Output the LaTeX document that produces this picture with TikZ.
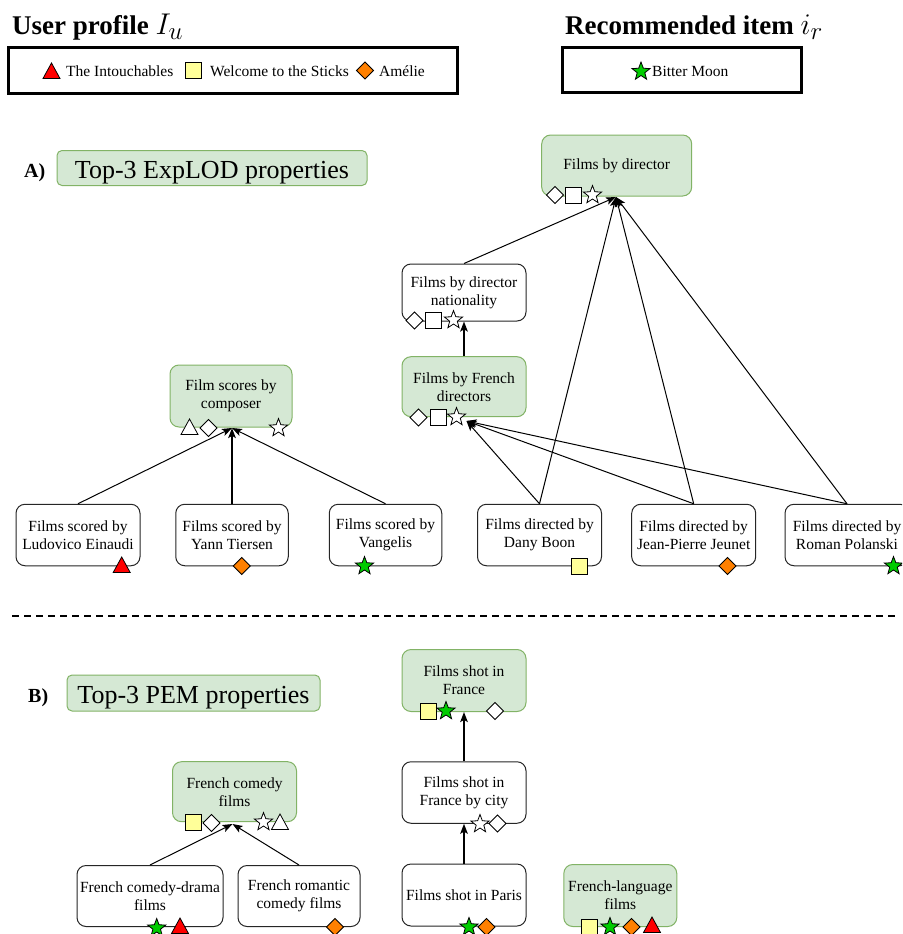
\RequirePackage{fix-cm}
\documentclass[tikz,border=0pt]{standalone}
\usepackage{fontspec}
\setmainfont{Liberation Serif}
\DeclareMathSizes{30}{30}{25}{20}
\usetikzlibrary{arrows.meta}
\definecolor{gfill}{HTML}{D5E8D4}
\definecolor{gline}{HTML}{82B366}
\definecolor{mred}{HTML}{FF0000}
\definecolor{myel}{HTML}{FFFF99}
\definecolor{mora}{HTML}{FF8000}
\definecolor{mgrn}{HTML}{00CC00}
\newcommand{\bigmath}[1]{{\fontsize{30}{30}\selectfont$#1$}}
\begin{document}
\begin{tikzpicture}[x=1pt,y=-1pt,
  nfont/.style={font=\fontsize{15.5}{18}\selectfont},
  sz/.style 2 args={minimum width=#1pt, minimum height=#2pt},
  wbox/.style={draw=black!85, line width=1pt, rounded corners=9pt, fill=white, align=center, inner sep=0pt, nfont},
  gbox/.style={wbox, draw=gline, fill=gfill},
  tbox/.style={draw=gline, fill=gfill, line width=1pt, rounded corners=5pt, inner sep=0pt,
               font=\fontsize{26}{30}\selectfont, text height=23pt, text depth=2pt},
  legbox/.style={draw=black, line width=3pt},
  conn/.style={line width=1pt, -{Stealth[length=10pt,width=7.5pt,inset=2.2pt]}},
  thickconn/.style={conn, line width=2.2pt},
  title/.style={anchor=base west, inner sep=0pt, font=\fontsize{27}{30}\selectfont\bfseries},
  legtext/.style={anchor=base west, inner sep=0pt, nfont},
  mtri/.pic={\draw[fill=#1, line width=0.8pt, line join=miter] (0,-8) -- (8.5,7.5) -- (-8.5,7.5) -- cycle;},
  msq/.pic={\draw[fill=#1, line width=0.8pt] (-8,-8) rectangle (8,8);},
  mdia/.pic={\draw[fill=#1, line width=0.8pt] (0,-8.5) -- (8.5,0) -- (0,8.5) -- (-8.5,0) -- cycle;},
  mstar/.pic={\draw[fill=#1, line width=0.8pt, line join=miter] (-90:9.5) -- (-54:4) -- (-18:9.5) -- (18:4) -- (54:9.5) -- (90:4) -- (126:9.5) -- (162:4) -- (198:9.5) -- (234:4) -- cycle;}
]
\useasboundingbox (0,0) rectangle (902,934);
\clip (0,0) rectangle (902,934);

% ---------- header ----------
\node[title] (tuser) at (12,35) {User profile \bigmath{I_u}};
\node[title] (titem) at (565,35) {Recommended item \bigmath{i_r}};
\node[legbox, sz={449}{46}] (leg1) at (232.5,70.5) {};
\node[legbox, sz={239}{45}] (leg2) at (681.5,70) {};
\pic at (51.5,71) {mtri=mred};
\node[legtext] (l1) at (66,77) {The Intouchables};
\pic at (193.5,70) {msq=myel};
\node[legtext] (l2) at (210,77) {Welcome to the Sticks};
\pic at (365,70.5) {mdia=mora};
\node[legtext] (l3) at (379,77) {Amélie};
\pic at (641,71.5) {mstar=mgrn};
\node[legtext] (l4) at (652,76.5) {Bitter Moon};

% ---------- section A ----------
\node[anchor=base west, inner sep=0pt, font=\fontsize{20}{24}\selectfont\bfseries] (la) at (24,177) {A)};
\node[tbox, sz={310}{35}] (expl) at (212,168) {Top-3 ExpLOD properties};

\node[gbox, sz={150}{61}] (dir) at (616.7,165.5) {Films by director};
\node[wbox, sz={124}{57}] (nat) at (464,292.5) {Films by director\\nationality};
\node[gbox, sz={124}{60}] (fre) at (464,386.7) {Films by French\\directors};
\node[gbox, sz={122}{62}] (comp) at (231,396) {Film scores by\\composer};

\node[wbox, sz={124}{61.5}] (ein) at (78,535) {Films scored by\\Ludovico Einaudi};
\node[wbox, sz={112.5}{61.5}] (yan) at (232,535) {Films scored by\\Yann Tiersen};
\node[wbox, sz={112.5}{61.5}] (van) at (385.5,535) {Films scored by\\Vangelis};
\node[wbox, sz={124}{61.5}] (boon) at (539.5,535) {Films directed by\\Dany Boon};
\node[wbox, sz={124}{61.5}] (jeu) at (693.7,535) {Films directed by\\Jean-Pierre Jeunet};
\node[wbox, sz={124}{61.5}] (pol) at (847,535) {Films directed by\\Roman Polanski};

\coordinate (pdir) at (616,197);
\coordinate (pfre) at (466.5,421);
\coordinate (pcomp) at (232,428);

\draw[conn] (nat.north) -- (pdir);
\draw[conn] (boon.north) -- (pdir);
\draw[conn] (jeu.north) -- (pdir);
\draw[conn] (pol.north) -- (pdir);
\draw[thickconn] (fre.north) -- (nat.south);
\draw[conn] (boon.north) -- (pfre);
\draw[conn] (jeu.north) -- (pfre);
\draw[conn] (pol.north) -- (pfre);
\draw[conn] (ein.north) -- (pcomp);
\draw[thickconn] (yan.north) -- (pcomp);
\draw[conn] (van.north) -- (pcomp);

% markers A
\pic at (555,195) {mdia=white};
\pic at (573.5,195) {msq=white};
\pic at (592.5,195) {mstar=white};
\pic at (414.5,320.5) {mdia=white};
\pic at (433.5,320) {msq=white};
\pic at (453.5,320) {mstar=white};
\pic at (418.5,417.5) {mdia=white};
\pic at (438.5,417) {msq=white};
\pic at (456.5,417) {mstar=white};
\pic at (189.5,427) {mtri=white};
\pic at (208.5,428) {mdia=white};
\pic at (278.5,428) {mstar=white};
\pic at (121.7,565) {mtri=mred};
\pic at (241.7,566) {mdia=mora};
\pic at (364.5,566) {mstar=mgrn};
\pic at (579,566) {msq=myel};
\pic at (727.5,566) {mdia=mora};
\pic at (893.5,566) {mstar=mgrn};

% ---------- separator ----------
\draw[line width=1.5pt, dash pattern=on 7pt off 5pt] (12,616) -- (897,616);

% ---------- section B ----------
\node[anchor=base west, inner sep=0pt, font=\fontsize{20}{24}\selectfont\bfseries] (lb) at (28,702) {B)};
\node[tbox, sz={253}{36}] (pem) at (193.5,693) {Top-3 PEM properties};

\node[gbox, sz={124}{62}] (fra) at (464,680.5) {Films shot in\\France};
\node[wbox, sz={124}{61.5}] (city) at (464,792.5) {Films shot in\\France by city};
\node[wbox, sz={124}{62}] (paris) at (464,895) {Films shot in Paris};
\node[gbox, sz={124}{60}] (com) at (234.5,791.7) {French comedy\\films};
\node[wbox, sz={146}{61}] (drama) at (150,896) {French comedy-drama\\films};
\node[wbox, sz={122}{61}] (rom) at (299,896) {French romantic\\comedy films};
\node[gbox, sz={113}{62}] (lang) at (620.3,895.5) {French-language\\films};

\coordinate (pcom) at (232.5,824);

\draw[thickconn] (city.north) -- (fra.south);
\draw[thickconn] (paris.north) -- (city.south);
\draw[conn] (drama.north) -- (pcom);
\draw[conn] (rom.north) -- (pcom);

% markers B
\pic at (428,711) {msq=myel};
\pic at (446,711) {mstar=mgrn};
\pic at (495,711) {mdia=white};
\pic at (480,824) {mstar=white};
\pic at (497.5,823.5) {mdia=white};
\pic at (193.5,822) {msq=myel};
\pic at (211.5,823) {mdia=white};
\pic at (263.5,822) {mstar=white};
\pic at (280,822) {mtri=white};
\pic at (156.7,928) {mstar=mgrn};
\pic at (180,926) {mtri=mred};
\pic at (335,927) {mdia=mora};
\pic at (469,927) {mstar=mgrn};
\pic at (486.5,927) {mdia=mora};
\pic at (589,927) {msq=myel};
\pic at (610,927) {mstar=mgrn};
\pic at (631.5,927) {mdia=mora};
\pic at (652,925) {mtri=mred};
\end{tikzpicture}
\end{document}
